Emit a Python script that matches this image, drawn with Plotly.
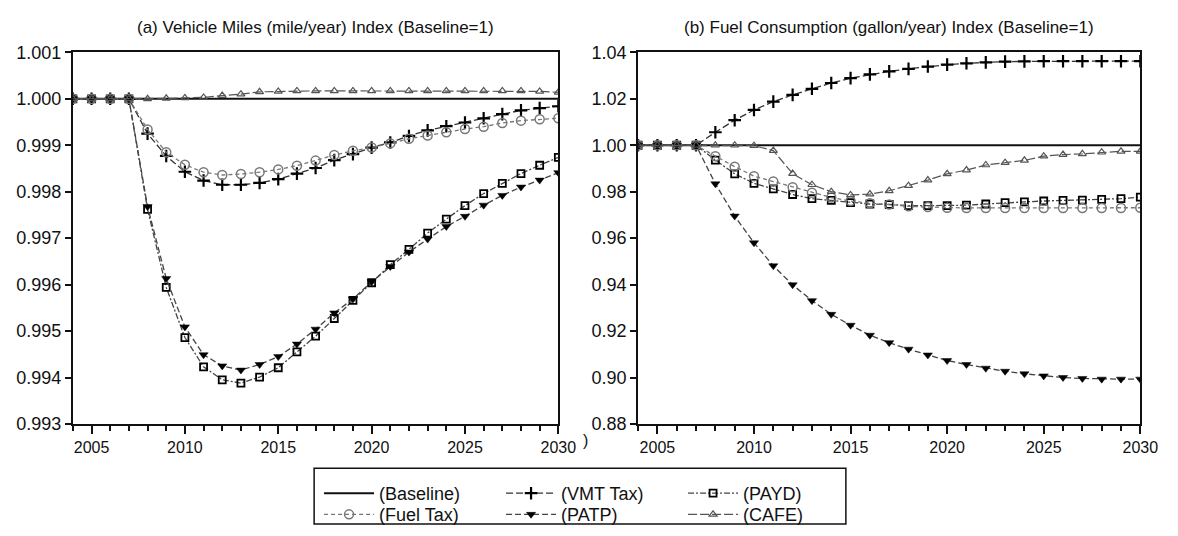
import plotly.graph_objects as go

W, H = 1178, 536

years = [2004, 2005, 2006, 2007, 2008, 2009, 2010, 2011, 2012, 2013, 2014, 2015, 2016,
         2017, 2018, 2019, 2020, 2021, 2022, 2023, 2024, 2025, 2026, 2027, 2028, 2029, 2030]

# (a) Vehicle Miles index
vm_baseline = [1.0, 1.0, 1.0, 1.0, 1.0, 1.0, 1.0, 1.0, 1.0, 1.0, 1.0, 1.0, 1.0, 1.0,
               1.0, 1.0, 1.0, 1.0, 1.0, 1.0, 1.0, 1.0, 1.0, 1.0, 1.0, 1.0, 1.0]
vm_vmt = [1.0, 1.0, 1.0, 1.0, 0.99925, 0.99877, 0.99843, 0.99824, 0.99815, 0.99815,
          0.99819, 0.99827, 0.99839, 0.99851, 0.99868, 0.99881, 0.99895, 0.99906,
          0.99920, 0.99932, 0.99941, 0.99949, 0.99958, 0.99967, 0.99975, 0.99980, 0.99984]
vm_payd = [1.0, 1.0, 1.0, 1.0, 0.99762, 0.99594, 0.99486, 0.99423, 0.99395, 0.99388,
           0.99401, 0.99421, 0.99455, 0.99489, 0.99527, 0.99566, 0.99604, 0.99643,
           0.99676, 0.99711, 0.99741, 0.99770, 0.99796, 0.99818, 0.99839, 0.99857, 0.99874]
vm_fuel = [1.0, 1.0, 1.0, 1.0, 0.99934, 0.99885, 0.99858, 0.99842, 0.99836, 0.99838,
           0.99842, 0.99848, 0.99856, 0.99867, 0.99879, 0.99888, 0.99895, 0.99904,
           0.99914, 0.99921, 0.99928, 0.99935, 0.99940, 0.99948, 0.99953, 0.99956, 0.99958]
vm_patp = [1.0, 1.0, 1.0, 1.0, 0.99768, 0.99613, 0.99509, 0.99449, 0.99425, 0.99416,
           0.99428, 0.99445, 0.99472, 0.99504, 0.99539, 0.99569, 0.99606, 0.99639,
           0.99670, 0.99698, 0.99725, 0.99747, 0.99771, 0.99792, 0.99810, 0.99825, 0.99841]
vm_cafe = [1.0, 1.0, 1.0, 1.0, 1.0, 1.00001, 1.00002, 1.00003, 1.00007, 1.00010,
           1.00015, 1.00016, 1.00017, 1.00017, 1.00017, 1.00017, 1.00017, 1.00017,
           1.00017, 1.00017, 1.00017, 1.00017, 1.00017, 1.00017, 1.00017, 1.00016, 1.00014]

# (b) Fuel Consumption index
fc_baseline = [1.0, 1.0, 1.0, 1.0, 1.0, 1.0, 1.0, 1.0, 1.0, 1.0, 1.0, 1.0, 1.0, 1.0,
               1.0, 1.0, 1.0, 1.0, 1.0, 1.0, 1.0, 1.0, 1.0, 1.0, 1.0, 1.0, 1.0]
fc_vmt = [1.0, 1.0, 1.0, 1.0, 1.0056, 1.0108, 1.0152, 1.0188, 1.0217, 1.0243, 1.0268,
          1.0289, 1.0305, 1.0318, 1.0329, 1.0339, 1.0347, 1.0353, 1.0357, 1.0360,
          1.0361, 1.0362, 1.0362, 1.0362, 1.0362, 1.0362, 1.0362]
fc_payd = [1.0, 1.0, 1.0, 1.0, 0.9936, 0.9877, 0.9836, 0.9812, 0.9788, 0.9770, 0.9763,
           0.9753, 0.9747, 0.9745, 0.9740, 0.9740, 0.9740, 0.9742, 0.9747, 0.9753,
           0.9756, 0.9760, 0.9763, 0.9764, 0.9767, 0.9770, 0.9777]
fc_fuel = [1.0, 1.0, 1.0, 1.0, 0.9953, 0.9908, 0.9867, 0.9844, 0.9819, 0.9796, 0.9775,
           0.9760, 0.9750, 0.9745, 0.9737, 0.9734, 0.9731, 0.9730, 0.9730, 0.9730,
           0.9730, 0.9730, 0.9730, 0.9730, 0.9730, 0.9730, 0.9731]
fc_patp = [1.0, 1.0, 1.0, 1.0, 0.9834, 0.9695, 0.9580, 0.9481, 0.9399, 0.9331, 0.9272,
           0.9225, 0.9182, 0.9150, 0.9122, 0.9097, 0.9073, 0.9056, 0.9040, 0.9027,
           0.9016, 0.9007, 0.9000, 0.8996, 0.8993, 0.8993, 0.8993]
fc_cafe = [1.0, 1.0, 1.0, 1.0, 1.0, 1.0, 0.9998, 0.9977, 0.9878, 0.9830, 0.9800,
           0.9786, 0.9790, 0.9804, 0.9826, 0.9850, 0.9877, 0.9893, 0.9915, 0.9925,
           0.9935, 0.9953, 0.9960, 0.9963, 0.9970, 0.9974, 0.9974]

series_names = ["(Baseline)", "(VMT Tax)", "(PAYD)", "(Fuel Tax)", "(PATP)", "(CAFE)"]
left_vals = [vm_baseline, vm_vmt, vm_payd, vm_fuel, vm_patp, vm_cafe]
right_vals = [fc_baseline, fc_vmt, fc_payd, fc_fuel, fc_patp, fc_cafe]

styles = [
    dict(line=dict(color="#111111", width=2, dash="solid"), mode="lines", marker=None),
    dict(line=dict(color="#333333", width=1.3, dash="7px,3px"), mode="lines+markers",
         marker=dict(symbol="cross-thin-open", size=9, color="#000000", line=dict(width=2.2, color="#000000"))),
    dict(line=dict(color="#444444", width=1.3, dash="6px,2px,2px,2px"), mode="lines+markers",
         marker=dict(symbol="square-open", size=7, color="#000000", line=dict(width=1.8, color="#000000"))),
    dict(line=dict(color="#777777", width=1.3, dash="4px,3px"), mode="lines+markers",
         marker=dict(symbol="circle-open", size=9, color="#777777", line=dict(width=1.5, color="#777777"))),
    dict(line=dict(color="#444444", width=1.3, dash="6px,3px"), mode="lines+markers",
         marker=dict(symbol="triangle-down", size=8, color="#000000", line=dict(width=0.5, color="#000000"))),
    dict(line=dict(color="#555555", width=1.2, dash="9px,3px"), mode="lines+markers",
         marker=dict(symbol="triangle-up-open", size=7, color="#555555", line=dict(width=1.2, color="#555555"))),
]

legend_of = ["legend", "legend", "legend", "legend2", "legend2", "legend2"]

fig = go.Figure()
for i, name in enumerate(series_names):
    st = styles[i]
    kw = dict(mode=st["mode"], line=st["line"])
    if st["marker"] is not None:
        kw["marker"] = st["marker"]
    fig.add_trace(go.Scatter(x=years, y=left_vals[i], name=name, xaxis="x", yaxis="y",
                             legend=legend_of[i], showlegend=True, **kw))
for i, name in enumerate(series_names):
    st = styles[i]
    kw = dict(mode=st["mode"], line=st["line"])
    if st["marker"] is not None:
        kw["marker"] = st["marker"]
    fig.add_trace(go.Scatter(x=years, y=right_vals[i], name=name, xaxis="x2", yaxis="y2",
                             legend=legend_of[i], showlegend=False, **kw))

font_family = "Liberation Sans, Arial, sans-serif"
tick_font = dict(family=font_family, size=18, color="#111111")

def xaxis(domain, anchor):
    return dict(domain=domain, anchor=anchor, range=[2004, 2030], tickmode="array",
                tickvals=[2005, 2010, 2015, 2020, 2025, 2030],
                ticktext=["2005", "2010", "2015", "2020", "2025", "2030"],
                ticks="outside", ticklen=8, tickwidth=1.5, tickcolor="#111111",
                minor=dict(tickmode="linear", tick0=2004, dtick=1, ticks="outside", ticklen=5,
                           tickwidth=1.5, tickcolor="#111111", showgrid=False),
                showline=True, linewidth=2, linecolor="#111111", mirror=True,
                showgrid=False, zeroline=False, tickfont=dict(family=font_family, size=16, color="#111111"))

def yaxis(domain, anchor, rng, vals, fmt):
    return dict(domain=domain, anchor=anchor, range=rng, tickmode="array", tickvals=vals,
                ticktext=[fmt.format(v) for v in vals],
                ticks="outside", ticklen=6, tickwidth=1.5, tickcolor="#111111",
                showline=True, linewidth=2, linecolor="#111111", mirror=True,
                showgrid=False, zeroline=False, tickfont=tick_font)

left_ticks = [0.993, 0.994, 0.995, 0.996, 0.997, 0.998, 0.999, 1.000, 1.001]
right_ticks = [0.88, 0.90, 0.92, 0.94, 0.96, 0.98, 1.00, 1.02, 1.04]

leg_font = dict(family=font_family, size=18, color="#111111")
ydom = [1 - 430 / H, 1 - 44 / H]
fig.update_layout(
    width=W, height=H, margin=dict(l=0, r=0, t=0, b=0),
    paper_bgcolor="white", plot_bgcolor="white",
    font=dict(family=font_family, size=16, color="#111111"),
    xaxis=xaxis([74 / W, 567 / W], "y"),
    yaxis=yaxis(ydom, "x", [0.993, 1.001], left_ticks, "{:.3f}"),
    xaxis2=xaxis([648 / W, 1158 / W], "y2"),
    yaxis2=yaxis(ydom, "x2", [0.88, 1.04], right_ticks, "{:.2f}"),
    legend=dict(orientation="h", x=324 / W, y=1 - 483 / H, xanchor="left", yanchor="top",
                entrywidth=117, entrywidthmode="pixels", bgcolor="rgba(0,0,0,0)",
                font=leg_font, itemwidth=50, tracegroupgap=0),
    legend2=dict(orientation="h", x=324 / W, y=1 - 505 / H, xanchor="left", yanchor="top",
                 entrywidth=117, entrywidthmode="pixels", bgcolor="rgba(0,0,0,0)",
                 font=leg_font, itemwidth=50, tracegroupgap=0),
    shapes=[dict(type="rect", xref="paper", yref="paper", x0=319 / W, x1=859 / W,
                 y0=1 - 534 / H, y1=1 - 476 / H, line=dict(color="#111111", width=1.5),
                 fillcolor="rgba(0,0,0,0)")],
    annotations=[
        dict(text="(a) Vehicle Miles (mile/year) Index (Baseline=1)", x=(74 + 567) / 2 / W,
             y=1 - 18 / H, xref="paper", yref="paper", showarrow=False,
             xanchor="center", yanchor="middle",
             font=dict(family=font_family, size=17, color="#111111")),
        dict(text="(b) Fuel Consumption (gallon/year) Index (Baseline=1)", x=(648 + 1158) / 2 / W,
             y=1 - 18 / H, xref="paper", yref="paper", showarrow=False,
             xanchor="center", yanchor="middle",
             font=dict(family=font_family, size=17, color="#111111")),
        dict(text=")", x=590 / W, y=1 - 447 / H, xref="paper", yref="paper", showarrow=False,
             xanchor="left", yanchor="middle",
             font=dict(family=font_family, size=16, color="#111111")),
    ],
)

fig.write_html("out.html")
